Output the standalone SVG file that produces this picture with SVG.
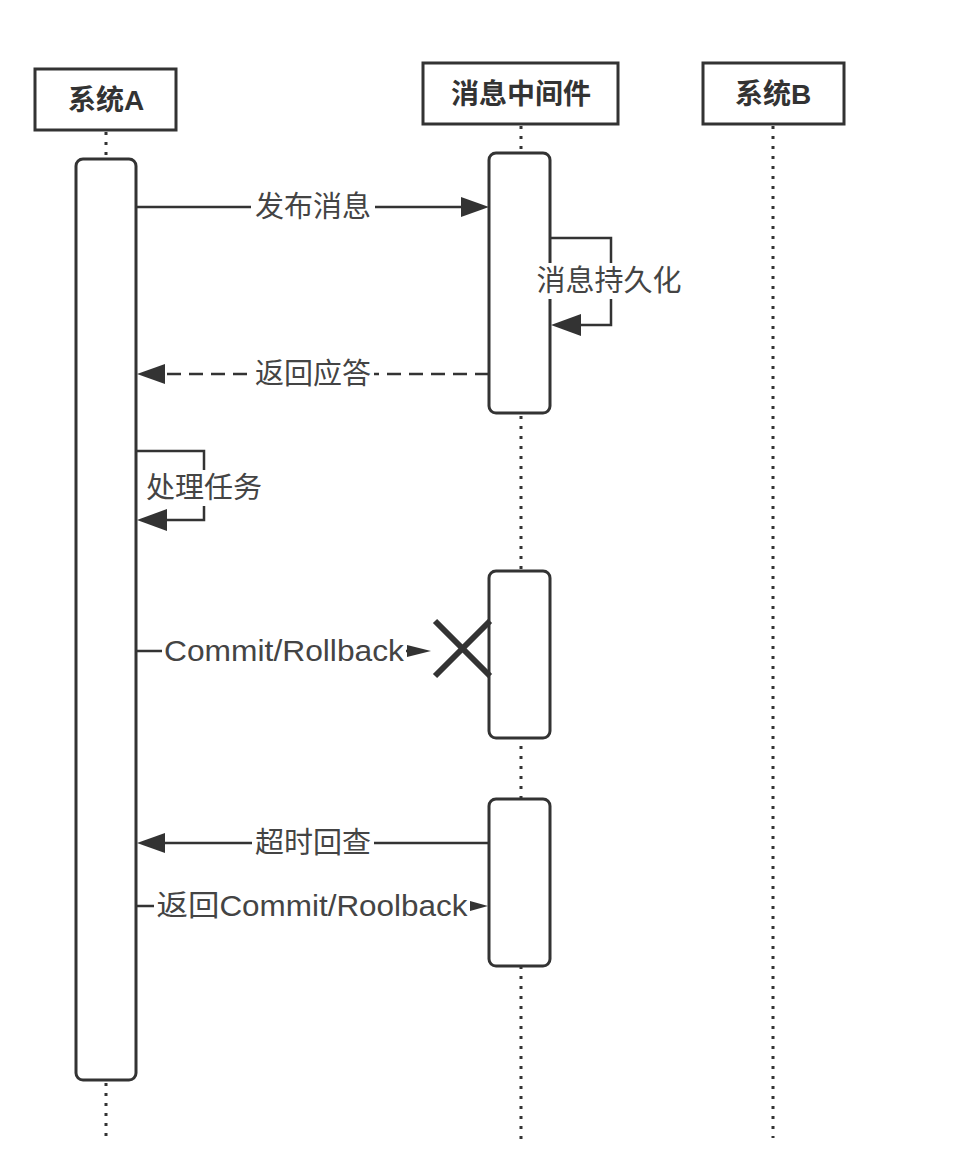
<svg xmlns="http://www.w3.org/2000/svg" width="960" height="1170" viewBox="0 0 960 1170">
<defs>
<style>
.hdr{fill:#fff;stroke:#333;stroke-width:3}
.htxt{font-family:"Liberation Sans","Noto Sans CJK SC",sans-serif;font-size:28px;font-weight:bold;fill:#333;text-anchor:middle;dominant-baseline:central}
.life{stroke:#333;stroke-width:3;stroke-dasharray:3 7;fill:none}
.act{fill:#fff;stroke:#333;stroke-width:3}
.msg{stroke:#333;stroke-width:2.5;fill:none}
.dash{stroke-dasharray:14 8}
.lbl{font-family:"Liberation Sans","Noto Sans CJK SC",sans-serif;font-size:29px;fill:#444;text-anchor:middle;dominant-baseline:central}
.bg{fill:#fff}
.head{fill:#333}
</style>
</defs>
<rect width="960" height="1170" fill="#fff"/>
<g id="lifelines">
<line class="life" x1="106" y1="132" x2="106" y2="158"/>
<line class="life" x1="106" y1="1083" x2="106" y2="1142"/>
<line class="life" x1="521" y1="126" x2="521" y2="1140"/>
<line class="life" x1="773" y1="126" x2="773" y2="1138"/>
</g>
<g id="systemA">
<rect class="hdr" x="35" y="69" width="141" height="61"/>
<text class="htxt" x="106" y="100">系统A</text>
</g>
<g id="middleware">
<rect class="hdr" x="423" y="63" width="195" height="61"/>
<text class="htxt" x="521" y="94">消息中间件</text>
</g>
<g id="systemB">
<rect class="hdr" x="703" y="63" width="141" height="61"/>
<text class="htxt" x="773" y="94">系统B</text>
</g>
<g id="activationA">
<rect class="act" x="76" y="159" width="60" height="921" rx="7"/>
</g>
<g id="activationM1">
<rect class="act" x="489" y="153" width="61" height="260" rx="7"/>
</g>
<g id="activationM2">
<rect class="act" x="489" y="571" width="61" height="167" rx="7"/>
</g>
<g id="activationM3">
<rect class="act" x="489" y="799" width="61" height="167" rx="7"/>
</g>
<g id="connectors">
<!-- 发布消息 -->
<line class="msg" x1="137" y1="207" x2="462" y2="207"/>
<polygon class="head" points="489,207 461,197 461,217"/>
<rect class="bg" x="251" y="190" width="124" height="34"/>
<text class="lbl" x="313" y="207">发布消息</text>
<!-- 消息持久化 self loop -->
<polyline class="msg" points="550,238 611,238 611,325 580,325"/>
<polygon class="head" points="551,325 581,314 581,336"/>
<rect class="bg" x="533" y="263" width="152" height="36"/>
<text class="lbl" x="609" y="281">消息持久化</text>
<!-- 返回应答 -->
<line class="msg dash" x1="489" y1="374" x2="165" y2="374"/>
<polygon class="head" points="137,374 165,364 165,384"/>
<rect class="bg" x="252" y="357" width="122" height="34"/>
<text class="lbl" x="313" y="374">返回应答</text>
<!-- 处理任务 self loop -->
<polyline class="msg" points="137,451 204,451 204,520 166,520"/>
<polygon class="head" points="137,520 167,509 167,531"/>
<rect class="bg" x="143" y="470" width="122" height="36"/>
<text class="lbl" x="204" y="488">处理任务</text>
<!-- Commit/Rollback -->
<line class="msg" x1="137" y1="651" x2="420" y2="651"/>
<polygon class="head" points="431,651 407,645 407,657"/>
<rect class="bg" x="162" y="634" width="244" height="34"/>
<text class="lbl" x="284" y="651" textLength="240" lengthAdjust="spacingAndGlyphs">Commit/Rollback</text>
<line x1="435" y1="621" x2="490" y2="676" stroke="#333" stroke-width="6"/>
<line x1="435" y1="676" x2="490" y2="621" stroke="#333" stroke-width="6"/>
<!-- 超时回查 -->
<line class="msg" x1="489" y1="843" x2="165" y2="843"/>
<polygon class="head" points="137,843 165,833 165,853"/>
<rect class="bg" x="252" y="826" width="122" height="34"/>
<text class="lbl" x="313" y="843">超时回查</text>
<!-- 返回Commit/Roolback -->
<line class="msg" x1="137" y1="906" x2="475" y2="906"/>
<polygon class="head" points="488,906 470,901 470,911"/>
<rect class="bg" x="154" y="889" width="316" height="34"/>
<text class="lbl" x="312" y="906" textLength="311" lengthAdjust="spacingAndGlyphs">返回Commit/Roolback</text>
</g>
</svg>
